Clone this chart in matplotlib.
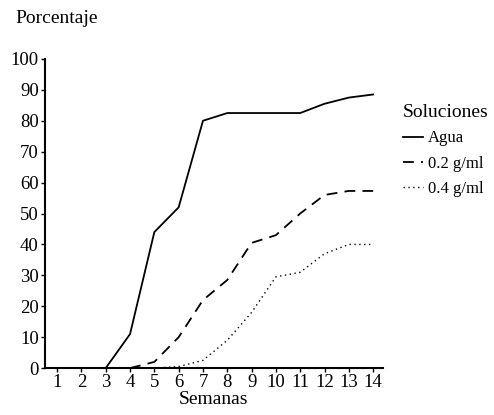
import numpy as np
import matplotlib
matplotlib.use('Agg')
import matplotlib.pyplot as plt

plt.rcParams['font.family'] = ['Liberation Serif', 'DejaVu Serif']

# Data (percentage per week)
semanas = np.arange(1, 15)
agua = [np.nan, np.nan, 0, 11, 44, 52, 80, 82.5, 82.5, 82.5, 82.5, 85.5, 87.5, 88.5]
sol_02 = [np.nan, np.nan, np.nan, 0, 2, 10, 22, 28.5, 40.5, 43, 50, 56, 57.3, 57.3]
sol_04 = [0, 0, 0, 0, 0, 0.5, 2.5, 9, 18, 29.5, 31, 37, 40, 40]
yticks = list(range(0, 101, 10))

fig = plt.figure(figsize=(4.94, 4.15), dpi=100)
ax = fig.add_axes([0.091, 0.113, 0.684, 0.745])

ax.plot(semanas, agua, color='black', lw=1.3, label='Agua')
ax.plot(semanas, sol_02, color='black', lw=1.3, dashes=(6, 4), label='0.2 g/ml')
ax.plot(semanas, sol_04, color='black', lw=1.0, dashes=(1, 2.5), label='0.4 g/ml')

ax.set_xlim(0.5, 14.4)
ax.set_ylim(0, 100)
ax.set_xticks(semanas)
ax.set_yticks(yticks)
ax.tick_params(axis='both', labelsize=13.5, length=3, width=1, pad=1.5)
ax.spines['top'].set_visible(False)
ax.spines['right'].set_visible(False)
ax.spines['left'].set_linewidth(1.5)
ax.spines['bottom'].set_linewidth(1.5)

ax.set_xlabel('Semanas', fontsize=14, labelpad=0)
fig.text(0.032, 0.955, 'Porcentaje', fontsize=14, ha='left', va='center')

leg = ax.legend(loc='upper left', bbox_to_anchor=(0.785, 0.785), bbox_transform=fig.transFigure,
                frameon=False, fontsize=12, handlelength=1.2, handletextpad=0.3,
                labelspacing=0.55, title='Soluciones', title_fontsize=14)
leg._legend_box.align = 'left'

fig.savefig('out.png', dpi=100)
